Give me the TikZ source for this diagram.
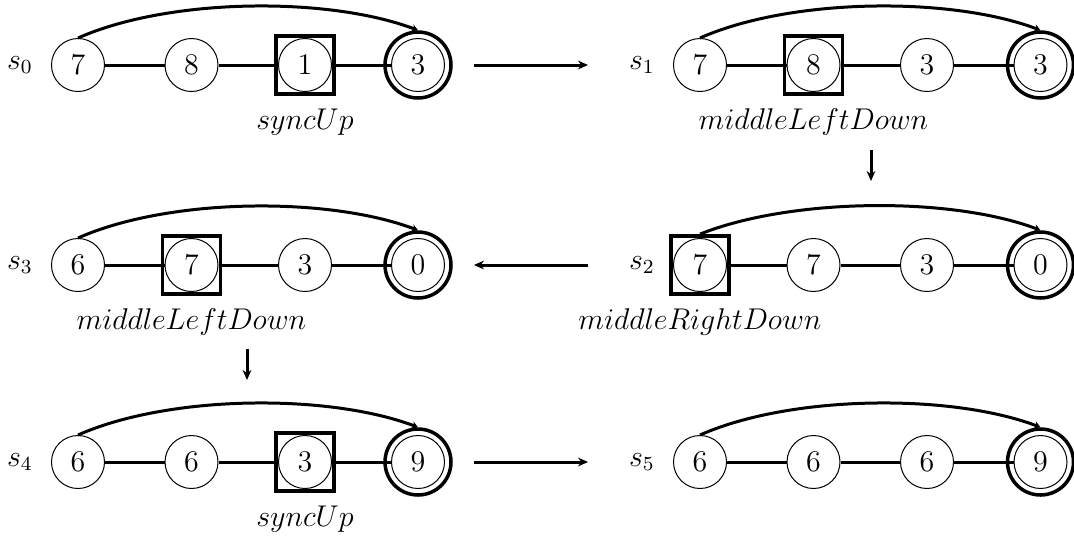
\documentclass[tikz,border=0pt]{standalone}
\usetikzlibrary{arrows.meta}
\begin{document}
\begin{tikzpicture}[x=0.4pt,y=-0.4pt,
  num/.style={circle, draw, line width=0.4pt, minimum size=21.2pt, inner sep=0pt, font=\large},
  ring/.style={circle, draw, line width=1.4pt, minimum size=26.4pt, inner sep=0pt},
  boxmark/.style={draw, line width=1.5pt, minimum size=23.2pt, inner sep=0pt},
  conn/.style={line width=1.2pt},
  arcline/.style={line width=1.2pt, -{Stealth[length=2.5pt,width=3pt]}},
  trans/.style={line width=1.2pt, -{Stealth[length=4pt,width=3.5pt]}},
  slabel/.style={font=\large},
  oplabel/.style={font=\large}
]
\useasboundingbox (0,0) rectangle (1074,535);

% ---------- s0 ----------
\node[slabel] (s0) at (20,65) {$s_0$};
\node[num] (s0a) at (78,65) {7};
\node[num] (s0b) at (191.5,65) {8};
\node[num] (s0c) at (305,65) {1};
\node[num] (s0d) at (418,65) {3};
\node[boxmark] (s0box) at (305,65) {};
\node[ring] (s0r) at (418,65) {};
\draw[conn] (s0a) -- (s0b); \draw[conn] (s0b) -- (s0c); \draw[conn] (s0c) -- (s0d);
\draw[arcline] (s0a.north) .. controls (168,-2) and (327,-4) .. (s0r.north);
\node[oplabel] (op0) at ([yshift=-22.8pt]s0box.center) {$syncUp$};

% ---------- s1 ----------
\node[slabel] (s1) at (642,65) {$s_1$};
\node[num] (s1a) at (700,65) {7};
\node[num] (s1b) at (813.5,65) {8};
\node[num] (s1c) at (927,65) {3};
\node[num] (s1d) at (1040.5,65) {3};
\node[boxmark] (s1box) at (813.5,65) {};
\node[ring] (s1r) at (1040.5,65) {};
\draw[conn] (s1a) -- (s1b); \draw[conn] (s1b) -- (s1c); \draw[conn] (s1c) -- (s1d);
\draw[arcline] (s1a.north) .. controls (790,-2) and (950,-4) .. (s1r.north);
\node[oplabel] (op1) at ([yshift=-22.8pt]s1box.center) {$middleLeftDown$};

% ---------- s3 ----------
\node[slabel] (s3) at (20,265) {$s_3$};
\node[num] (s3a) at (78,265) {6};
\node[num] (s3b) at (191.5,265) {7};
\node[num] (s3c) at (305,265) {3};
\node[num] (s3d) at (418,265) {0};
\node[boxmark] (s3box) at (191.5,265) {};
\node[ring] (s3r) at (418,265) {};
\draw[conn] (s3a) -- (s3b); \draw[conn] (s3b) -- (s3c); \draw[conn] (s3c) -- (s3d);
\draw[arcline] (s3a.north) .. controls (168,198) and (327,196) .. (s3r.north);
\node[oplabel] (op3) at ([yshift=-22.8pt]s3box.center) {$middleLeftDown$};

% ---------- s2 ----------
\node[slabel] (s2) at (642,265) {$s_2$};
\node[num] (s2a) at (700,265) {7};
\node[num] (s2b) at (813.5,265) {7};
\node[num] (s2c) at (927,265) {3};
\node[num] (s2d) at (1040.5,265) {0};
\node[boxmark] (s2box) at (700,265) {};
\node[ring] (s2r) at (1040.5,265) {};
\draw[conn] (s2a) -- (s2b); \draw[conn] (s2b) -- (s2c); \draw[conn] (s2c) -- (s2d);
\draw[arcline] (s2box.north) .. controls (790,198) and (950,196) .. (s2r.north);
\node[oplabel] (op2) at ([yshift=-22.8pt]s2box.center) {$middleRightDown$};

% ---------- s4 ----------
\node[slabel] (s4) at (20,462) {$s_4$};
\node[num] (s4a) at (78,462) {6};
\node[num] (s4b) at (191.5,462) {6};
\node[num] (s4c) at (305,462) {3};
\node[num] (s4d) at (418,462) {9};
\node[boxmark] (s4box) at (305,462) {};
\node[ring] (s4r) at (418,462) {};
\draw[conn] (s4a) -- (s4b); \draw[conn] (s4b) -- (s4c); \draw[conn] (s4c) -- (s4d);
\draw[arcline] (s4a.north) .. controls (168,395) and (327,393) .. (s4r.north);
\node[oplabel] (op4) at ([yshift=-22.8pt]s4box.center) {$syncUp$};

% ---------- s5 ----------
\node[slabel] (s5) at (642,462) {$s_5$};
\node[num] (s5a) at (700,462) {6};
\node[num] (s5b) at (813.5,462) {6};
\node[num] (s5c) at (927,462) {6};
\node[num] (s5d) at (1040.5,462) {9};
\node[ring] (s5r) at (1040.5,462) {};
\draw[conn] (s5a) -- (s5b); \draw[conn] (s5b) -- (s5c); \draw[conn] (s5c) -- (s5d);
\draw[arcline] (s5a.north) .. controls (790,395) and (950,393) .. (s5r.north);

% ---------- transitions ----------
\coordinate (t01s) at (474,65);  \coordinate (t01e) at (588,65);
\coordinate (t12s) at (871,150); \coordinate (t12e) at (871,181);
\coordinate (t23s) at (588,265); \coordinate (t23e) at (474,265);
\coordinate (t34s) at (247,349); \coordinate (t34e) at (247,380);
\coordinate (t45s) at (474,462); \coordinate (t45e) at (588,462);
\draw[trans] (t01s) -- (t01e);
\draw[trans] (t12s) -- (t12e);
\draw[trans] (t23s) -- (t23e);
\draw[trans] (t34s) -- (t34e);
\draw[trans] (t45s) -- (t45e);
\end{tikzpicture}
\end{document}
